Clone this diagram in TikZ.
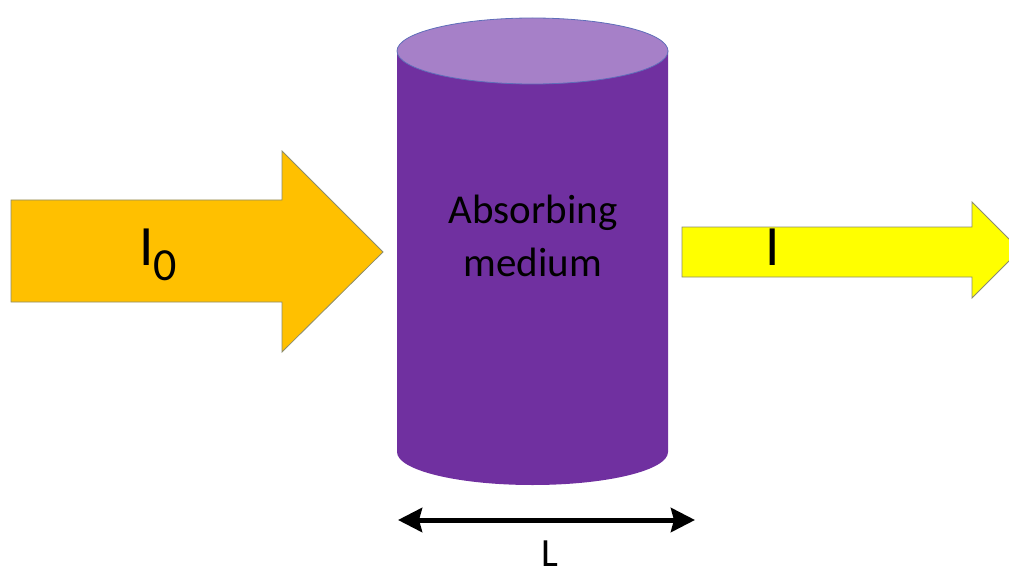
\documentclass[tikz,border=0pt]{standalone}
\usepackage{fontspec}
\setmainfont{Carlito}
\usetikzlibrary{arrows.meta}
\definecolor{beamorange}{RGB}{255,192,0}
\definecolor{beamyellow}{RGB}{255,255,0}
\definecolor{medpurple}{RGB}{112,48,160}
\definecolor{medtop}{RGB}{166,128,200}
\definecolor{edgegray}{RGB}{140,140,110}
\definecolor{edgeblue}{RGB}{95,110,185}
\begin{document}
\begin{tikzpicture}
[x=1pt,y=-1pt,
 beam/.style={draw=edgegray,line width=0.8pt,line join=miter},
 lbl/.style={inner sep=0pt,text=black}]
\useasboundingbox (0,0) rectangle (1009,580);
\clip (0,0) rectangle (1009,580);
% incoming beam
\draw [beam,fill=beamorange] (11,200) -- (282,200) -- (282,151) -- (383,252) -- (282,352) -- (282,302) -- (11,302) -- cycle;
% outgoing beam
\draw [beam,fill=beamyellow] (682,227) -- (972,227) -- (972,202) -- (1020,250) -- (972,298) -- (972,277) -- (682,277) -- cycle;
% medium
\fill [medpurple] (397,51) -- (397,452) arc [start angle=180,end angle=0,x radius=135.5,y radius=33] -- (668,51) -- cycle;
\draw [edgeblue,fill=medtop,line width=0.8pt] (532.5,51) ellipse [x radius=135.5,y radius=33];
\node [lbl,anchor=base,font=\fontsize{57}{57}\selectfont] (inlbl) at (158,265) {I\raisebox{-15pt}{\fontsize{46}{46}\selectfont 0}};
\node [lbl,align=center,font=\fontsize{41}{53}\selectfont] (medlbl) at (533,236) {Absorbing\\medium};
\node [lbl,anchor=base,font=\fontsize{57}{57}\selectfont] (outlbl) at (773,265) {I};
% length
\coordinate (lft) at (398,520);
\coordinate (rgt) at (695,520);
\draw [{Stealth[length=24pt,width=24pt,inset=3pt]}-{Stealth[length=24pt,width=24pt,inset=3pt]},line width=5pt] (lft) -- (rgt);
\node [lbl,anchor=base,font=\fontsize{40}{40}\selectfont] (len) at (550,566) {L};
\end{tikzpicture}
\end{document}
